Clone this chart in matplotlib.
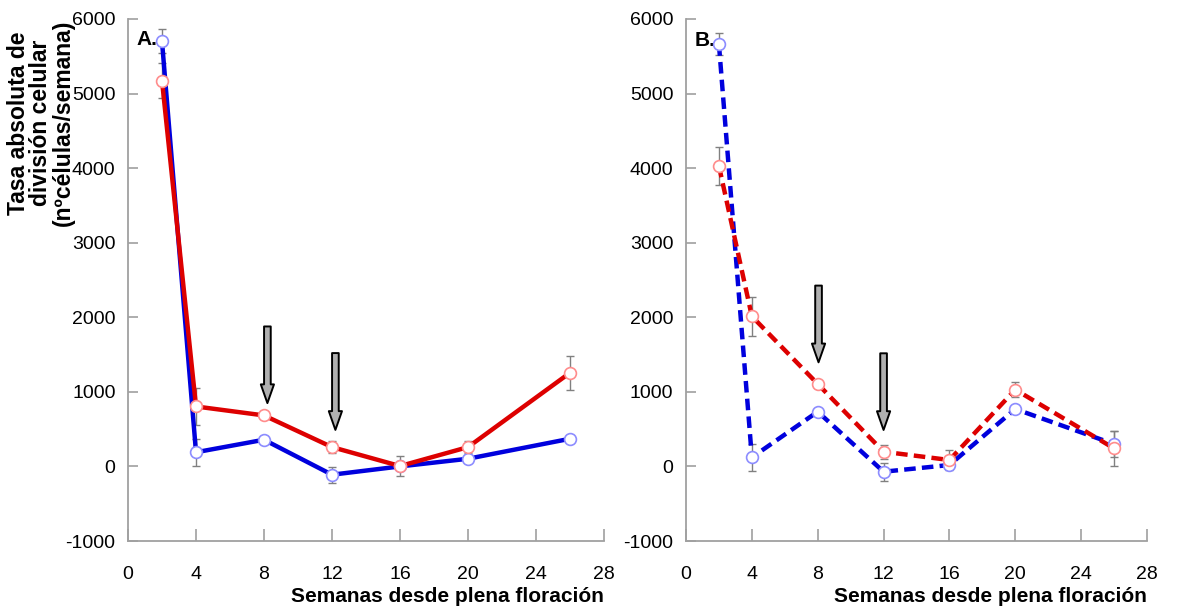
import matplotlib
matplotlib.use("Agg")
import matplotlib.pyplot as plt
from matplotlib import font_manager

weeks = [2, 4, 8, 12, 16, 20, 26]

# Panel A (solid lines)
a_blue = [5700, 190, 358, -111, 0, 103, 371]
a_blue_err = [160, 180, 50, 110, 40, 30, 50]
a_red = [5174, 804, 684, 259, 5, 259, 1256]
a_red_err = [240, 250, 40, 85, 130, 85, 230]

# Panel B (dashed lines)
b_blue = [5661, 121, 734, -71, 19, 770, 300]
b_blue_err = [150, 180, 40, 120, 60, 40, 170]
b_red = [4030, 2013, 1106, 197, 86, 1030, 242]
b_red_err = [250, 260, 40, 95, 130, 100, 235]

# Arrow markers (x, top, tip) per panel
a_arrows = [(8.2, 1877, 849), (12.2, 1520, 490)]
b_arrows = [(8.05, 2425, 1396), (12.0, 1517, 489)]

xticks = [0, 4, 8, 12, 16, 20, 24, 28]
yticks = [-1000, 0, 1000, 2000, 3000, 4000, 5000, 6000]

available = {f.name for f in font_manager.fontManager.ttflist}
narrow = "Liberation Sans Narrow" if "Liberation Sans Narrow" in available else "Liberation Sans"
plt.rcParams["font.family"] = [narrow, "DejaVu Sans"]
plt.rcParams["axes.unicode_minus"] = False

BLUE = "#0000dd"
RED = "#dd0000"
BLUE_EDGE = "#8c8cff"
RED_EDGE = "#ff8c8c"
SPINE = "#a0a0a0"

fig = plt.figure(figsize=(11.9, 6.11), dpi=100)
axA = fig.add_axes([128 / 1190, 1 - 541 / 611, (604 - 128) / 1190, (541 - 19) / 611])
axB = fig.add_axes([686 / 1190, 1 - 541 / 611, (1147 - 686) / 1190, (541 - 19) / 611])


def draw_series(ax, y, err, color, edge, ls):
    ax.errorbar(weeks, y, yerr=err, fmt="none", ecolor="#808080",
                elinewidth=1.0, capsize=3, capthick=1.0, zorder=2)
    ax.plot(weeks, y, color=color, lw=3.2, ls=ls, zorder=3)
    ax.plot(weeks, y, ls="none", marker="o", ms=8.5, mfc="white",
            mec=edge, mew=1.2, zorder=4)


def draw_arrow(ax, x, top, tip):
    ax.annotate("", xy=(x, tip), xytext=(x, top),
                arrowprops=dict(arrowstyle="simple,head_length=1.35,head_width=0.95,tail_width=0.48",
                                fc="#b0b0b0", ec="black", lw=1.4,
                                shrinkA=0, shrinkB=0, mutation_scale=10),
                zorder=5)


def style_axes(ax):
    ax.set_xlim(0, 28)
    ax.set_ylim(-1000, 6000)
    ax.set_xticks(xticks)
    ax.set_yticks(yticks)
    for s in ("top", "right"):
        ax.spines[s].set_visible(False)
    for s in ("left", "bottom"):
        ax.spines[s].set_color(SPINE)
        ax.spines[s].set_linewidth(1.3)
    ax.tick_params(axis="x", direction="in", length=9, width=1.2, color=SPINE,
                   labelsize=14, pad=18)
    ax.tick_params(axis="y", direction="in", length=7, width=1.2, color=SPINE,
                   labelsize=14, pad=9)
    ax.set_xlabel("Semanas desde plena floración", fontsize=15, fontweight="bold",
                  loc="right", labelpad=3)


dashed = (0, (2.6, 1.4))
draw_series(axA, a_blue, a_blue_err, BLUE, BLUE_EDGE, "-")
draw_series(axA, a_red, a_red_err, RED, RED_EDGE, "-")
draw_series(axB, b_blue, b_blue_err, BLUE, BLUE_EDGE, dashed)
draw_series(axB, b_red, b_red_err, RED, RED_EDGE, dashed)

for x, top, tip in a_arrows:
    draw_arrow(axA, x, top, tip)
for x, top, tip in b_arrows:
    draw_arrow(axB, x, top, tip)

style_axes(axA)
style_axes(axB)

axA.text(0.5, 5730, "A.", fontsize=15, fontweight="bold", va="center", ha="left")
axB.text(0.5, 5710, "B.", fontsize=15, fontweight="bold", va="center", ha="left")

fig.text(41 / 1190, 1 - 123 / 611,
         "Tasa absoluta de\ndivisión celular\n(nºcélulas/semana)",
         rotation=90, ha="center", va="center", fontsize=16.5, fontweight="bold",
         family=["Liberation Sans", "DejaVu Sans"], linespacing=0.98)

fig.savefig("out.png", dpi=100)
